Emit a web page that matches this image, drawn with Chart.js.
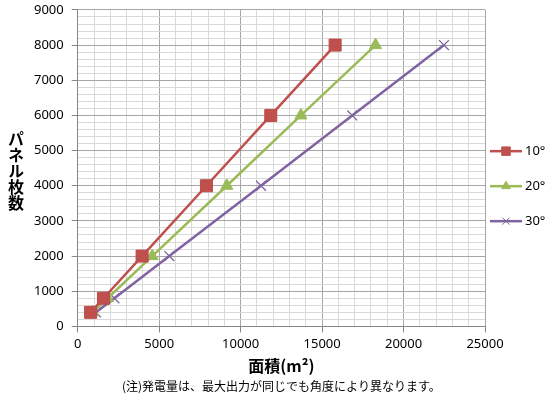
<!DOCTYPE html>
<html>
<head>
<meta charset="utf-8">
<script src="https://cdn.jsdelivr.net/npm/chart.js@4/dist/chart.umd.min.js"></script>
<style>
html, body { margin: 0; padding: 0; background: #fff; }
#wrap { position: relative; width: 550px; height: 397px; }
#ytitle {
    position: absolute; left: 5px; top: 131px;
    writing-mode: vertical-rl; text-orientation: upright;
    font: bold 16px "Noto Sans CJK JP"; color: #000; line-height: 22px;
}
</style>
</head>
<body>
<div id="wrap">
    <canvas id="panel-chart"></canvas>
    <div id="ytitle">パネル枚数</div>
</div>
<script>
// panel counts (y) and area needed (x, m2) per tilt angle
var panels = [400, 800, 2000, 4000, 6000, 8000];
var area10 = [790, 1580, 3950, 7900, 11850, 15800];
var area20 = [910, 1830, 4570, 9150, 13700, 18280];
var area30 = [1120, 2250, 5620, 11250, 16850, 22480];
var seriesNames = ["10°", "20°", "30°"];

function toPoints(xs) {
    return xs.map(function (x, i) { return {x: x, y: panels[i]}; });
}

var xTickFont = {family: "Noto Sans", size: 13, lineHeight: 1};
// small lineHeight only trims the space reserved above the top label
var yTickFont = {family: "Noto Sans", size: 13, lineHeight: 0.3};
var majorGrid = "#a6a6a6", minorGrid = "#d9d9d9";
var legendRadius = [6, 5, 5];

// legend at the right: short line + marker + label
var sideLegend = {
    id: "sideLegend",
    afterDraw: function (chart) {
        var g = chart.ctx, area = chart.chartArea;
        var x0 = area.right + 5;
        var yMid = (area.top + area.bottom) / 2 + 18;
        chart.data.datasets.forEach(function (ds, i) {
            var y = yMid + (i - 1) * 35;
            g.save();
            g.strokeStyle = ds.borderColor;
            g.lineWidth = 2.5;
            g.beginPath(); g.moveTo(x0, y); g.lineTo(x0 + 32, y); g.stroke();
            g.fillStyle = ds.backgroundColor;
            g.lineWidth = 1;
            Chart.helpers.drawPoint(g, {pointStyle: ds.pointStyle, radius: legendRadius[i], borderWidth: 1}, x0 + 16, y);
            g.fillStyle = "#000";
            g.font = "13px 'Noto Sans'";
            g.textBaseline = "middle";
            g.fillText(ds.label, x0 + 35, y);
            g.restore();
        });
    }
};

var ctx = document.getElementById("panel-chart");

var chartData = {
    datasets: [{
        label: seriesNames[0],
        data: toPoints(area10),
        showLine: true,
        borderColor: "#C0504D", backgroundColor: "#C0504D", borderWidth: 2.5,
        pointStyle: "rect", pointRadius: 8.5, pointBorderColor: "#BE4B48", pointBorderWidth: 1
    }, {
        label: seriesNames[1],
        data: toPoints(area20),
        showLine: true,
        borderColor: "#9BBB59", backgroundColor: "#9BBB59", borderWidth: 2.5,
        pointStyle: "triangle", pointRadius: 7, pointBorderWidth: 1
    }, {
        label: seriesNames[2],
        data: toPoints(area30),
        showLine: true,
        borderColor: "#8064A2", backgroundColor: "#8064A2", borderWidth: 2.5,
        pointStyle: "crossRot", pointRadius: 7, pointBorderWidth: 1.3
    }]
};

var chartOptions = {
    responsive: true,
    maintainAspectRatio: false,
    animation: false,
    layout: {padding: {left: 26, right: 65, top: 0, bottom: 3}},
    plugins: {
        tooltip: {enabled: false},
        legend: {display: false},
        title: {
            display: true,
            position: "bottom",
            fullSize: false,
            text: "(注)発電量は、最大出力が同じでも角度により異なります。",
            color: "#000",
            font: {family: "Noto Sans CJK JP", size: 12, weight: "normal"},
            padding: {top: 4, bottom: 0}
        }
    },
    scales: {
        x: {
            type: "linear", min: 0, max: 25000,
            ticks: {
                stepSize: 1000, autoSkip: false, maxRotation: 0,
                color: "#000", font: xTickFont, padding: 5,
                callback: function (v) { return v % 5000 === 0 ? String(v) : ""; }
            },
            grid: {
                tickLength: 6,
                color: function (c) { return c.tick && c.tick.value % 5000 === 0 ? majorGrid : minorGrid; },
                tickColor: function (c) { return c.tick && c.tick.value % 5000 === 0 ? "#868686" : "rgba(0,0,0,0)"; }
            },
            border: {color: "#868686"},
            title: {
                display: true, text: "面積(m²)", color: "#000",
                font: {family: "Noto Sans CJK JP", size: 16, weight: "bold"},
                padding: {top: 1, bottom: 0}
            }
        },
        y: {
            type: "linear", min: 0, max: 9000,
            ticks: {
                stepSize: 200, autoSkip: false,
                color: "#000", font: yTickFont, padding: 8,
                callback: function (v) { return v % 1000 === 0 ? String(v) : ""; }
            },
            grid: {
                tickLength: 6,
                color: function (c) { return c.tick && c.tick.value % 1000 === 0 ? majorGrid : minorGrid; },
                tickColor: function (c) { return c.tick && c.tick.value % 1000 === 0 ? "#868686" : "rgba(0,0,0,0)"; }
            },
            border: {color: "#868686"}
        }
    }
};

var config = {
    type: "scatter",
    options: chartOptions,
    data: chartData,
    plugins: [sideLegend]
};

var panelChart = new Chart(ctx, config);
</script>
</body>
</html>
